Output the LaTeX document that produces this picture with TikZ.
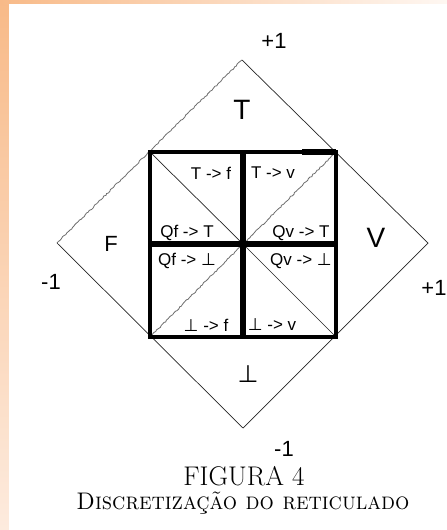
\documentclass[tikz,border=0pt]{standalone}
\usepackage{fontspec}
\newfontfamily\arial{Liberation Sans}
\newfontfamily\dejavu{DejaVu Sans}
\usetikzlibrary{decorations.pathmorphing}
\definecolor{orangeA}{RGB}{248,186,136}
\definecolor{orangeB}{RGB}{253,235,222}
\definecolor{wavygray}{RGB}{110,110,110}
\newcommand{\botsym}{{\dejavu ⊥}}
\begin{document}
\begin{tikzpicture}[x=1pt,y=-1pt,
  thinline/.style={line width=0.7pt,black!85},
  wavyline/.style={line width=0.8pt,wavygray,decorate,decoration={random steps,segment length=2pt,amplitude=0.6pt}},
  border/.style={line width=4pt,line cap=rect},
  centerline/.style={line width=6pt},
  inlab/.style={font=\arial\fontsize{17}{19}\selectfont,inner sep=0pt},
  biglab/.style={font=\arial\fontsize{28}{30}\selectfont,inner sep=0pt},
  numlab/.style={font=\arial\fontsize{22}{24}\selectfont,inner sep=0pt}]
\pgfmathsetseed{7}
\useasboundingbox (0,0) rectangle (447,530);
% background
\shade[top color=orangeA,bottom color=orangeB] (0,0) rectangle (9,530);
\shade[left color=orangeA,right color=orangeB!40] (0,0) rectangle (447,4);
\fill[white] (9,4) rectangle (447,530);
% coordinates
\coordinate (C) at (243,244);
\coordinate (TL) at (150,152);
\coordinate (TR) at (336,152);
\coordinate (BL) at (150,337);
\coordinate (BR) at (336,337);
\coordinate (DT) at (242,60);
\coordinate (DL) at (57,243);
\coordinate (DR) at (428,243);
\coordinate (DB) at (243,428);
\coordinate (CT) at (243,152);
\coordinate (CB) at (243,337);
\coordinate (CL) at (150,244);
\coordinate (CR) at (336,244);
% diamond
\draw[wavyline] (DL) -- (DT);
\draw[thinline] (DT) -- (DR) -- (DB) -- (DL);
% diagonals
\draw[thinline] (TL) -- (C) -- (BR);
\draw[wavyline] (TR) -- (C);
\draw[wavyline] (BL) -- (C);
% square
\draw[border] (TL) rectangle (BR);
\draw[line width=5.5pt] (302,152) -- (TR);
\draw[centerline] (CT) -- (CB);
\draw[centerline] (CL) -- (CR);
% inner labels
\node[inlab] (l1) at (211,173) {T -> f};
\node[inlab] (l2) at (273,173) {T -> v};
\node[inlab] (l3) at (187,233) {Qf -> T};
\node[inlab] (l4) at (301,233) {Qv -> T};
\node[inlab] (l5) at (187,261) {Qf -> \botsym};
\node[inlab] (l6) at (301,261) {Qv -> \botsym};
\node[inlab] (l7) at (206,325) {\botsym{} -> f};
\node[inlab] (l8) at (272,325) {\botsym{} -> v};
% region labels
\node[biglab] (rT) at (242,110) {T};
\node[biglab,font=\arial\fontsize{22}{24}\selectfont] (rF) at (111,244) {F};
\node[biglab] (rV) at (376,238) {V};
\node[inner sep=0pt,font=\fontsize{24}{26}\selectfont] (rB) at (248,374) {\botsym};
% numbers
\node[numlab] (n1) at (274,41) {+1};
\node[numlab] (n2) at (51,282) {-1};
\node[numlab] (n3) at (434,288) {+1};
\node[numlab] (n4) at (284,449) {-1};
% caption
\node[inner sep=0pt,font=\fontsize{27}{29}\selectfont] (cap) at (244,476) {FIGURA 4};
\node[inner sep=0pt,font=\fontsize{24}{26}\selectfont] (sub) at (243,503) {\resizebox{333pt}{\height}{\textsc{Discretização do reticulado}}};
\end{tikzpicture}
\end{document}
